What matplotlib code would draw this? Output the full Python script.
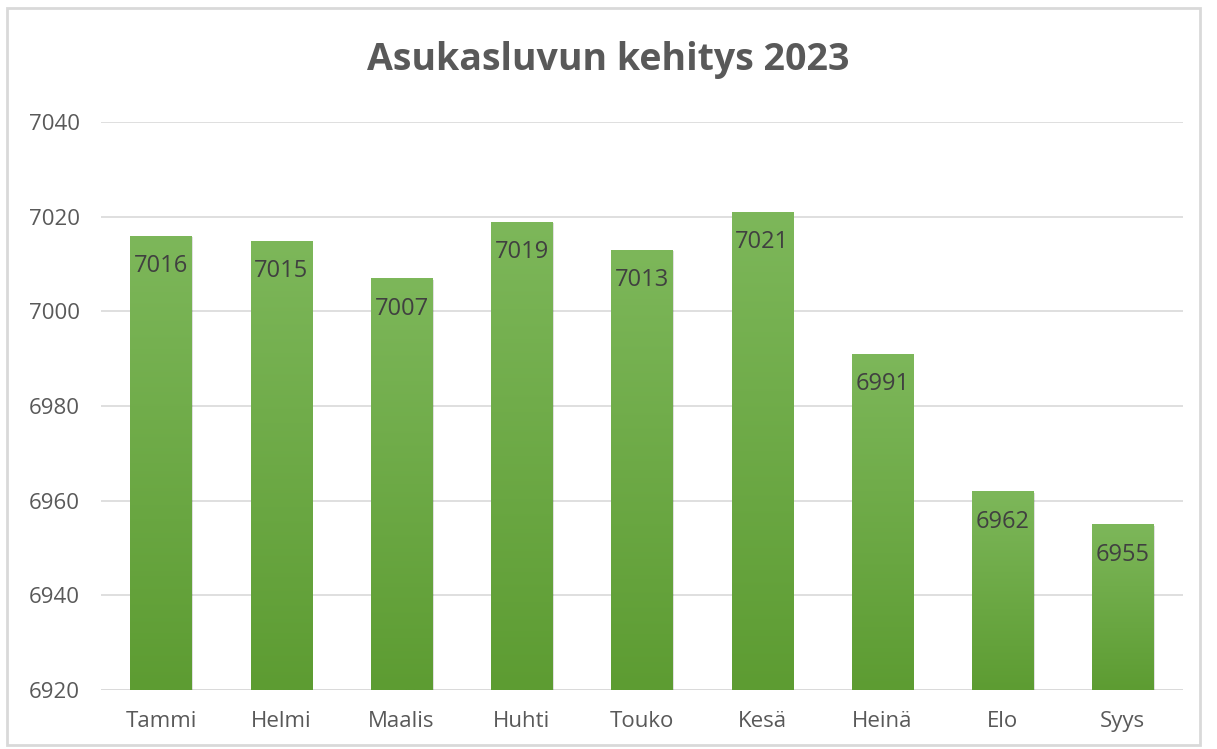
import matplotlib
matplotlib.use("Agg")
import matplotlib.pyplot as plt
import numpy as np
from matplotlib.patches import Rectangle
from matplotlib.colors import LinearSegmentedColormap

months = ["Tammi", "Helmi", "Maalis", "Huhti", "Touko", "Kesä", "Heinä", "Elo", "Syys"]
values = [7016, 7015, 7007, 7019, 7013, 7021, 6991, 6962, 6955]
yticks = [6920, 6940, 6960, 6980, 7000, 7020, 7040]
title = "Asukasluvun kehitys 2023"

plt.rcParams['font.family'] = ['Open Sans', 'DejaVu Sans']

fig = plt.figure(figsize=(12.17, 7.49), dpi=100)
ax = fig.add_axes([0.083, 0.0788, 0.889, 0.758])

x = np.arange(len(months))
ymin, ymax = 6920, 7040
bars = ax.bar(x, [v - ymin for v in values], bottom=ymin, width=0.51,
              color="#6aaa44", zorder=3, edgecolor="none")

cmap = LinearSegmentedColormap.from_list("g", ["#5d9c32", "#7db75a"])
grad = np.linspace(0, 1, 256).reshape(-1, 1)
for b in bars:
    sh = Rectangle((b.get_x() + 0.012, ymin), b.get_width(), b.get_height() + b.get_y() - ymin - 0.3,
                   facecolor="#000000", alpha=0.12, zorder=2, edgecolor="none")
    ax.add_patch(sh)
    im = ax.imshow(grad, cmap=cmap, aspect="auto", origin="lower",
                   extent=[b.get_x(), b.get_x() + b.get_width(), ymin, b.get_y() + b.get_height()],
                   zorder=4)
    im.set_clip_path(b)

for xi, v in zip(x, values):
    ax.text(xi, v - 6.4, str(v), ha="center", va="center", fontsize=17,
            color="#404040", zorder=5)

ax.set_xlim(-0.5, len(months) - 0.5)
ax.set_ylim(ymin, ymax)
ax.set_yticks(yticks)
ax.set_yticklabels([str(t) for t in yticks])
ax.set_xticks(x)
ax.set_xticklabels(months)
ax.tick_params(axis="both", length=0, labelsize=16, colors="#595959")
ax.tick_params(axis="y", pad=15)
ax.tick_params(axis="x", pad=15)
ax.grid(axis="y", color="#d9d9d9", linewidth=1.2, zorder=0)
for s in ax.spines.values():
    s.set_visible(False)
ax.axhline(ymin, color="#d9d9d9", linewidth=1.2, zorder=1)

fig.text(0.5, 0.92, title, ha="center", va="center", fontsize=27,
         fontweight="bold", color="#595959")

border = Rectangle((7 / 1217, 1 - 745 / 749), 1193 / 1217, 737 / 749,
                   transform=fig.transFigure, fill=False, edgecolor="#d9d9d9", linewidth=2)
fig.patches.append(border)

fig.savefig("out.png", dpi=100)
